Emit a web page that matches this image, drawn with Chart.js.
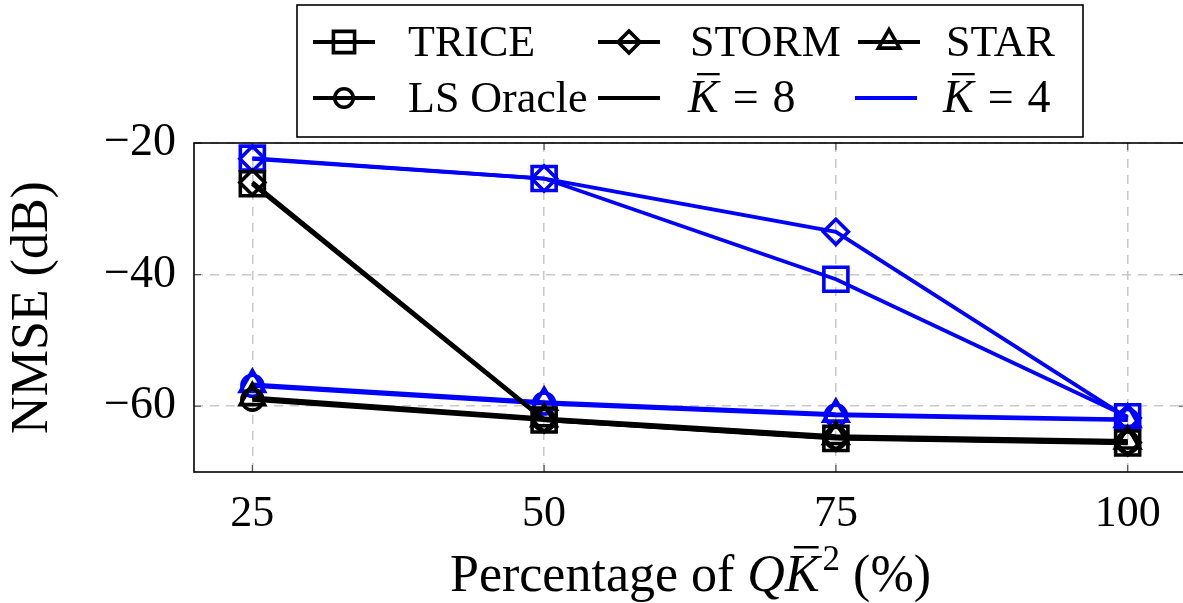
<!DOCTYPE html>
<html>
<head>
<meta charset="utf-8">
<script src="https://cdn.jsdelivr.net/npm/chart.js@4/dist/chart.umd.min.js"></script>
<style>
html,body{margin:0;padding:0;overflow:hidden;background:#fff;}
#wrap{position:relative;width:1190px;height:603px;}
</style>
</head>
<body>
<div id="wrap"><canvas id="c"></canvas></div>
<script>
// ---- data ----
const xValues = [25, 50, 75, 100];
const xTicks = [25, 50, 75, 100];
const yTicks = [-20, -40, -60];
// K̄ = 8 (black)
const trice8 = [-26.2, -62.1, -64.9, -65.6];
const storm8 = [-26.0, -62.0, -64.8, -65.5];
const star8  = [-58.7, -61.9, -64.6, -65.3];
const ls8    = [-59.0, -62.1, -64.8, -65.5];
// K̄ = 4 (blue)
const trice4 = [-22.3, -25.4, -40.7, -61.6];
const storm4 = [-22.4, -25.4, -33.5, -61.8];
const star4  = [-56.7, -59.4, -61.2, -62.0];
const ls4    = [-56.9, -59.6, -61.4, -62.1];

const methodNames = ['TRICE', 'STORM', 'STAR', 'LS Oracle'];
const markerStyles = ['rect', 'rectRot', 'triangle', 'circle'];
const markerRadius = [17, 12.5, 14, 10.5];
const BLUE = '#0000ff', BLACK = '#000000';
const FONT = '"Liberation Serif", "DejaVu Serif", serif';

function mk(label, data, idx, color) {
  return {
    label: label,
    data: xValues.map((x, i) => ({x: x, y: data[i]})),
    borderColor: color,
    backgroundColor: 'rgba(0,0,0,0)',
    pointBorderColor: color,
    pointBackgroundColor: 'rgba(0,0,0,0)',
    pointStyle: markerStyles[idx],
    pointRadius: markerRadius[idx],
    pointBorderWidth: 3.6,
    borderWidth: color === BLUE ? 3.8 : 4.2,
    tension: 0,
    clip: false
  };
}

const datasets = [
  mk('TRICE K8', trice8, 0, BLACK),
  mk('STORM K8', storm8, 1, BLACK),
  mk('STAR K8', star8, 2, BLACK),
  mk('LS K8', ls8, 3, BLACK),
  mk('TRICE K4', trice4, 0, BLUE),
  mk('STORM K4', storm4, 1, BLUE),
  mk('STAR K4', star4, 2, BLUE),
  mk('LS K4', ls4, 3, BLUE)
];

const frame = {
  id: 'frame',
  beforeDatasetsDraw(chart) {
    const {ctx, chartArea: a, scales} = chart;
    ctx.save();
    ctx.strokeStyle = '#555';
    ctx.lineWidth = 1.2;
    ctx.setLineDash([]);
    xTicks.forEach(v => {
      const x = scales.x.getPixelForValue(v);
      ctx.beginPath(); ctx.moveTo(x, a.bottom); ctx.lineTo(x, a.bottom - 7); ctx.stroke();
      ctx.beginPath(); ctx.moveTo(x, a.top); ctx.lineTo(x, a.top + 7); ctx.stroke();
    });
    yTicks.forEach(v => {
      const y = scales.y.getPixelForValue(v);
      ctx.beginPath(); ctx.moveTo(a.left, y); ctx.lineTo(a.left + 7, y); ctx.stroke();
      ctx.beginPath(); ctx.moveTo(a.right, y); ctx.lineTo(a.right - 7, y); ctx.stroke();
    });
    ctx.strokeStyle = '#000';
    ctx.lineWidth = 1.6;
    ctx.strokeRect(a.left, a.top, a.right - a.left, a.bottom - a.top);
    ctx.restore();
  },
  afterDraw(chart) {
    const {ctx, chartArea: a} = chart;
    ctx.save();
    // x-axis title with math pieces
    ctx.fillStyle = '#000';
    ctx.textBaseline = 'alphabetic';
    const base = 591;
    const parts = [
      {t: 'Percentage of ', f: '52px ' + FONT},
      {t: 'Q', f: 'italic 52px ' + FONT},
      {t: 'K', f: 'italic 52px ' + FONT, bar: true},
      {t: '2', f: '35px ' + FONT, sup: true},
      {t: ' (%)', f: '52px ' + FONT}
    ];
    let total = 0;
    parts.forEach(p => { ctx.font = p.f; p.w = ctx.measureText(p.t).width; total += p.w; });
    const cx = 689;
    let x = cx - total / 2;
    parts.forEach(p => {
      ctx.font = p.f;
      ctx.fillText(p.t, x, p.sup ? base - 21 : base);
      if (p.bar) {
        ctx.fillRect(x + 9, base - 45, p.w - 10, 2.5);
      }
      x += p.w + (p.bar ? 3 : 0);
    });

    // legend
    const L = {x: 297, y: 5, w: 786, h: 132};
    ctx.fillStyle = '#fff';
    ctx.fillRect(L.x, L.y, L.w, L.h);
    ctx.strokeStyle = '#000';
    ctx.lineWidth = 1.6;
    ctx.strokeRect(L.x, L.y, L.w, L.h);
    const entries = [
      {label: 'TRICE', style: 0, color: BLACK, lx: 313, tx: 408, row: 0},
      {label: 'STORM', style: 1, color: BLACK, lx: 598, tx: 690, row: 0},
      {label: 'STAR', style: 2, color: BLACK, lx: 858, tx: 946, row: 0},
      {label: 'LS Oracle', style: 3, color: BLACK, lx: 313, tx: 408, row: 1},
      {label: 'K8', style: -1, color: BLACK, lx: 598, tx: 688, row: 1},
      {label: 'K4', style: -1, color: BLUE, lx: 855, tx: 943, row: 1}
    ];
    const rowY = [42, 98];
    entries.forEach(e => {
      const y = rowY[e.row];
      ctx.strokeStyle = e.color;
      ctx.lineWidth = 4;
      ctx.beginPath(); ctx.moveTo(e.lx, y); ctx.lineTo(e.lx + 62, y); ctx.stroke();
      if (e.style >= 0) {
        ctx.fillStyle = 'rgba(0,0,0,0)';
        ctx.lineWidth = 3.6;
        Chart.helpers.drawPoint(ctx, {
          pointStyle: markerStyles[e.style],
          radius: markerRadius[e.style] * 0.88,
          rotation: 0,
          borderWidth: 3.6
        }, e.lx + 31, y);
      }
      ctx.fillStyle = '#000';
      ctx.textBaseline = 'middle';
      if (e.label === 'K8' || e.label === 'K4') {
        ctx.font = 'italic 46px ' + FONT;
        const kw = ctx.measureText('K').width;
        ctx.fillText('K', e.tx, y + 2);
        ctx.fillRect(e.tx + 9, y - 25, kw - 8, 2.3);
        ctx.font = '46px ' + FONT;
        ctx.fillText('=', e.tx + kw + 14, y + 2);
        ctx.fillText(e.label === 'K8' ? '8' : '4', e.tx + kw + 14 + ctx.measureText('=').width + 14, y + 2);
      } else {
        ctx.font = '44px ' + FONT;
        ctx.fillText(e.label, e.tx, y + 2);
      }
    });
    ctx.restore();
  }
};

new Chart(document.getElementById('c'), {
  type: 'line',
  data: {datasets: datasets},
  options: {
    responsive: true,
    maintainAspectRatio: false,
    animation: false,
    devicePixelRatio: 1,
    layout: {autoPadding: false, padding: {top: 143, right: 4, left: 0, bottom: 0}},
    plugins: {legend: {display: false}, tooltip: {enabled: false}},
    scales: {
      x: {
        type: 'linear',
        min: 20, max: 105,
        afterFit(s) { s.height = 131; s.paddingLeft = 0; s.paddingRight = 0; },
        afterBuildTicks(s) { s.ticks = xTicks.map(v => ({value: v})); },
        grid: {color: '#c8c8c8', lineWidth: 1.5, drawTicks: false},
        border: {display: false, dash: [9, 7]},
        ticks: {color: '#000', font: {family: FONT, size: 44}, padding: 16, maxRotation: 0},
        title: {display: false}
      },
      y: {
        type: 'linear',
        min: -70, max: -20,
        afterFit(s) { s.width = 194; s.paddingTop = 0; s.paddingBottom = 0; },
        afterBuildTicks(s) { s.ticks = yTicks.map(v => ({value: v})); },
        grid: {color: '#c8c8c8', lineWidth: 1.5, drawTicks: false},
        border: {display: false, dash: [9, 7]},
        ticks: {
          color: '#000', font: {family: FONT, size: 46}, padding: 18,
          callback: v => String(v).replace('-', '\u2212')
        },
        title: {
          display: true, text: 'NMSE (dB)', color: '#000',
          font: {family: FONT, size: 52}, padding: {top: 2, bottom: 0}
        }
      }
    }
  },
  plugins: [frame]
});
</script>
</body>
</html>
